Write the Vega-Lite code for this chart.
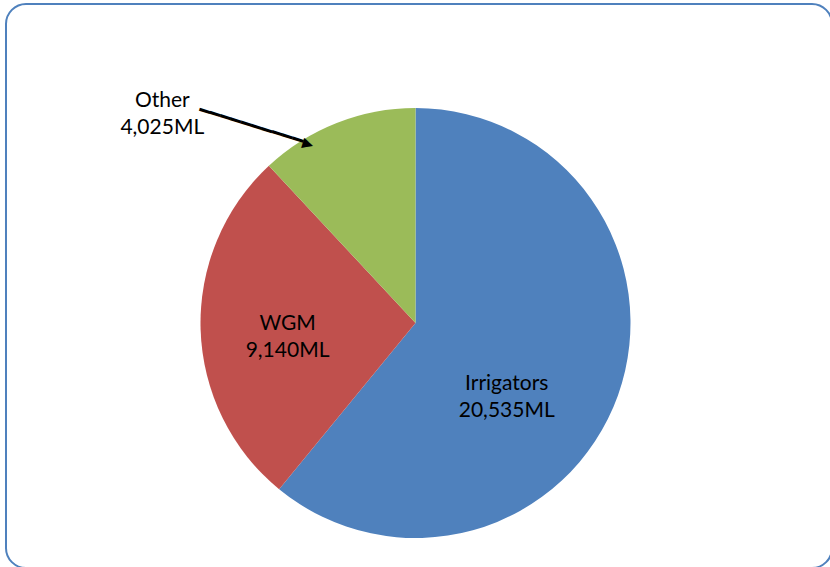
{
  "$schema": "https://vega.github.io/schema/vega-lite/v6.json",
  "width": 826,
  "height": 564,
  "padding": {"left": 6, "top": 4, "right": 0, "bottom": 0},
  "autosize": {"type": "none"},
  "background": "white",
  "config": {
    "view": {"stroke": null},
    "text": {"font": "Lato", "fontSize": 21, "color": "#000000", "lineBreak": "\n", "lineHeight": 27}
  },
  "data": {
    "values": [
      {"source": "Irrigators", "value": 20535, "rank": 1, "label": "Irrigators\n20,535ML"},
      {"source": "WGM", "value": 9140, "rank": 2, "label": "WGM\n9,140ML"},
      {"source": "Other", "value": 4025, "rank": 3, "label": "Other\n4,025ML"}
    ]
  },
  "layer": [
    {
      "data": {"values": [{"frame": "border"}]},
      "mark": {"type": "rect", "fill": "white", "fillOpacity": 0, "stroke": "#4F81BD", "strokeWidth": 2, "cornerRadius": 20},
      "encoding": {}
    },
    {
      "mark": {"type": "arc", "radius": 215, "xOffset": -3.5, "yOffset": 37},
      "encoding": {
        "theta": {"field": "value", "type": "quantitative", "stack": true},
        "order": {"field": "rank", "type": "quantitative"},
        "color": {
          "field": "source",
          "type": "nominal",
          "scale": {"domain": ["Irrigators", "WGM", "Other"], "range": ["#4F81BD", "#C0504D", "#9BBB59"]},
          "legend": null
        }
      }
    },
    {
      "mark": {"type": "text", "radius": 116, "xOffset": -3.5, "yOffset": 37, "dx": -18, "dy": 22, "align": "center", "baseline": "middle"},
      "encoding": {
        "theta": {"field": "value", "type": "quantitative", "stack": true},
        "order": {"field": "rank", "type": "quantitative"},
        "text": {"condition": {"test": "datum.source === 'Irrigators'", "field": "label", "type": "nominal"}, "value": ""}
      }
    },
    {
      "mark": {"type": "text", "radius": 128, "xOffset": -3.5, "yOffset": 37, "dx": 0, "dy": -3, "align": "center", "baseline": "middle"},
      "encoding": {
        "theta": {"field": "value", "type": "quantitative", "stack": true},
        "order": {"field": "rank", "type": "quantitative"},
        "text": {"condition": {"test": "datum.source === 'WGM'", "field": "label", "type": "nominal"}, "value": ""}
      }
    },
    {
      "mark": {"type": "text", "radius": 328, "xOffset": -3.5, "yOffset": 37, "dx": -133, "dy": 83, "align": "center", "baseline": "middle"},
      "encoding": {
        "theta": {"field": "value", "type": "quantitative", "stack": true},
        "order": {"field": "rank", "type": "quantitative"},
        "text": {"condition": {"test": "datum.source === 'Other'", "field": "label", "type": "nominal"}, "value": ""}
      }
    },
    {
      "mark": {"type": "text", "radius": 178.3, "xOffset": -3.5, "yOffset": 37, "angle": 17.2, "dx": -38.8, "dy": 0, "align": "right", "baseline": "middle", "font": "DejaVu Sans Mono", "fontSize": 18, "fontWeight": "bold", "lineHeight": 18},
      "encoding": {
        "theta": {"field": "value", "type": "quantitative", "stack": true},
        "order": {"field": "rank", "type": "quantitative"},
        "text": {"condition": {"test": "datum.source === 'Other'", "value": "━━━━━━━━━━▶"}, "value": ""}
      }
    }
  ]
}
